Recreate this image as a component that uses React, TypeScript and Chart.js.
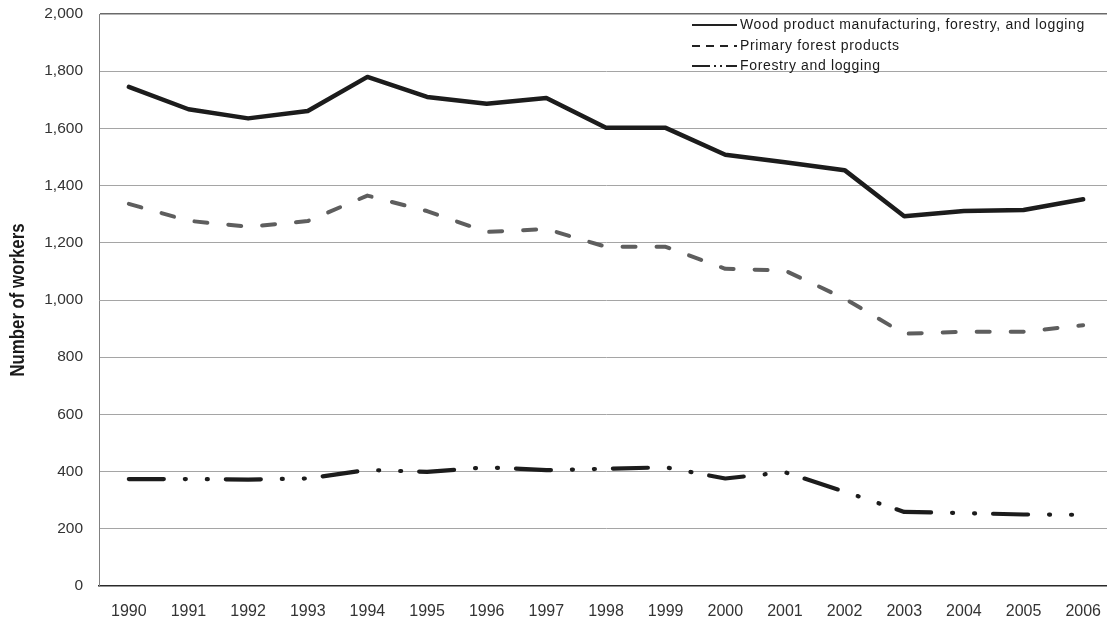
import React, { useEffect, useRef } from 'react';
import { Chart, registerables } from 'chart.js';

Chart.register(...registerables);

const years = ['1990', '1991', '1992', '1993', '1994', '1995', '1996', '1997', '1998', '1999', '2000', '2001', '2002', '2003', '2004', '2005', '2006'];
const woodValues = [1745, 1667, 1635, 1661, 1780, 1710, 1686, 1706, 1602, 1602, 1508, 1482, 1454, 1293, 1311, 1315, 1352];
const primaryValues = [1336, 1277, 1256, 1276, 1365, 1311, 1238, 1248, 1186, 1186, 1109, 1103, 1005, 882, 889, 889, 912];
const forestryValues = [374, 374, 372, 376, 406, 399, 415, 405, 410, 415, 376, 398, 330, 259, 255, 250, 249];
const seriesLabels = ['Wood product manufacturing, forestry, and logging', 'Primary forest products', 'Forestry and logging'];
const yMin = 0;
const yMax = 2000;
const yStep = 200;
const yTitle = 'Number of workers';

const legendPlugin = {
  id: 'customLegend',
  afterDatasetsDraw(chart: any) {
    const { ctx, chartArea } = chart;
    const x0 = chartArea.right - 421;
    const x1 = x0 + 45;
    const tx = x0 + 48;
    const rows = [chartArea.top + 11, chartArea.top + 32, chartArea.top + 52];
    const dashes = [[], [8, 6], [18, 4, 2, 4, 2, 4, 11]];
    ctx.save();
    chart.data.datasets.forEach((ds: any, i: number) => {
      const y = rows[i];
      ctx.beginPath();
      ctx.setLineDash(dashes[i]);
      ctx.lineCap = 'butt';
      ctx.lineWidth = 2;
      ctx.strokeStyle = '#222';
      ctx.moveTo(x0, y);
      ctx.lineTo(x1, y);
      ctx.stroke();
      ctx.setLineDash([]);
      ctx.fillStyle = '#1a1a1a';
      ctx.font = '14px "Liberation Sans", Arial, sans-serif';
      try { (ctx as any).letterSpacing = '0.65px'; } catch (e) {}
      ctx.textBaseline = 'middle';
      ctx.textAlign = 'left';
      ctx.fillText(ds.label, tx, y);
    });
    try { (ctx as any).letterSpacing = '0px'; } catch (e) {}
    ctx.restore();
  },
};

const yTitlePlugin = {
  id: 'condensedYTitle',
  afterDraw(chart: any) {
    const { ctx, chartArea } = chart;
    const cy = (chartArea.top + chartArea.bottom) / 2;
    ctx.save();
    ctx.translate(18, cy);
    ctx.rotate(-Math.PI / 2);
    ctx.scale(0.8, 1);
    ctx.font = 'bold 21px "Liberation Sans", Arial, sans-serif';
    ctx.fillStyle = '#1a1a1a';
    ctx.textAlign = 'center';
    ctx.textBaseline = 'middle';
    ctx.fillText(yTitle, 0, 0);
    ctx.restore();
  },
};

export default function App() {
  const canvasRef = useRef<HTMLCanvasElement | null>(null);

  useEffect(() => {
    if (!canvasRef.current) return;
    const chart = new Chart(canvasRef.current, {
      type: 'line',
      data: {
        labels: years,
        datasets: [
          {
            label: seriesLabels[0],
            data: woodValues,
            borderColor: '#1c1c1c',
            borderWidth: 4.5,
            pointRadius: 0,
            tension: 0,
            borderJoinStyle: 'round',
            borderCapStyle: 'round',
          },
          {
            label: seriesLabels[1],
            data: primaryValues,
            borderColor: '#5e5e5e',
            borderWidth: 4,
            borderDash: [13, 21],
            pointRadius: 0,
            tension: 0,
            borderJoinStyle: 'round',
            borderCapStyle: 'round',
          },
          {
            label: seriesLabels[2],
            data: forestryValues,
            borderColor: '#1c1c1c',
            borderWidth: 4.2,
            borderDash: [35, 21, 1, 21, 1, 18],
            pointRadius: 0,
            tension: 0,
            borderJoinStyle: 'round',
            borderCapStyle: 'round',
          },
        ],
      },
      options: {
        animation: false,
        responsive: true,
        maintainAspectRatio: false,
        layout: { padding: { top: 14, right: 0, bottom: 0, left: 0 } },
        plugins: {
          legend: { display: false },
          tooltip: { enabled: false },
        },
        scales: {
          x: {
            type: 'category',
            offset: true,
            grid: { display: false },
            border: { display: true, color: '#2a2a2a', width: 1.5 },
            ticks: {
              color: '#333',
              padding: 8,
              maxRotation: 0,
              autoSkip: false,
              font: { family: '"Liberation Sans", Arial, sans-serif', size: 16 },
            },
            afterFit: (scale: any) => {
              scale.height = 38;
            },
          },
          y: {
            min: yMin,
            max: yMax,
            ticks: {
              stepSize: yStep,
              color: '#333',
              padding: 16,
              font: { family: '"Liberation Sans", Arial, sans-serif', size: 15.5 },
              callback: (v: any) => Number(v).toLocaleString('en-US'),
            },
            grid: {
              drawTicks: false,
              color: (c: any) => (c.tick && c.tick.value === yMax ? '#6a6a6a' : c.tick && c.tick.value === yMin ? 'rgba(0,0,0,0)' : '#a5a5a5'),
              lineWidth: (c: any) => (c.tick && c.tick.value === yMax ? 1.5 : 1),
            },
            border: { display: true, color: '#808080', width: 1 },
            title: { display: false },
            afterFit: (scale: any) => {
              scale.width = 99;
              scale.paddingTop = 0;
              scale.paddingBottom = 0;
            },
          },
        },
      },
      plugins: [legendPlugin, yTitlePlugin],
    });
    return () => chart.destroy();
  }, []);

  return (
    <div style={{ position: 'fixed', left: 0, top: 0, width: 1107, height: 624, overflow: 'hidden', background: '#fff' }}>
      <div style={{ position: 'relative', width: 1113, height: 624 }}>
        <canvas ref={canvasRef} />
      </div>
    </div>
  );
}
